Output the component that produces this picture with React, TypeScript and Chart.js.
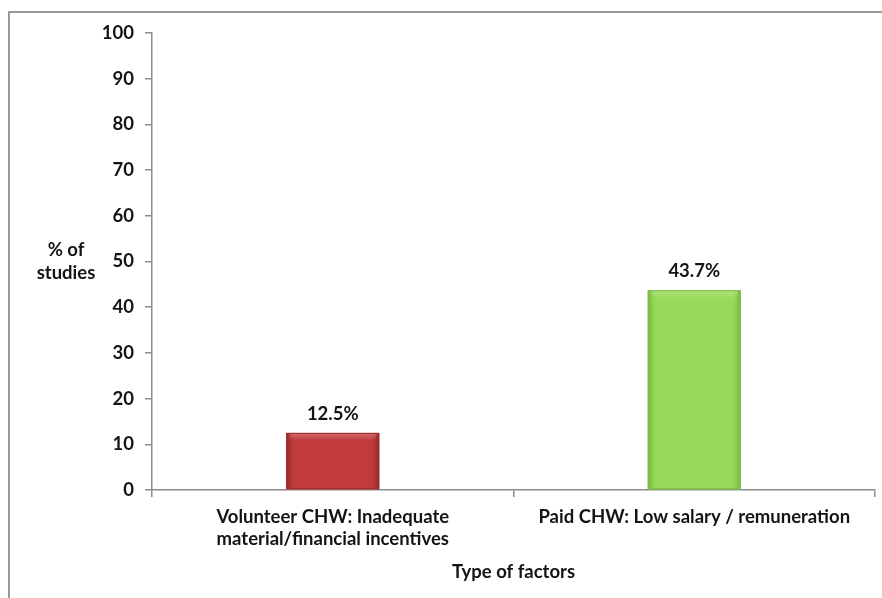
import React, { useEffect, useRef } from "react";
import { Chart, registerables } from "chart.js";

Chart.register(...registerables);

const categories: (string | string[])[] = [
  ["Volunteer CHW: Inadequate", "material/financial incentives"],
  "Paid CHW: Low salary / remuneration",
];
const values: number[] = [12.5, 43.7];
const valueLabels: string[] = ["12.5%", "43.7%"];
const barColors: string[] = ["#C23A3B", "#98D95A"];
const barEdgeColors: string[] = ["#992B2C", "#79B944"];
const yTitleLines: string[] = ["% of", "studies"];
const xTitle = "Type of factors";

const FONT = "Lato, 'Liberation Sans', sans-serif";
const FS = 18.5;
const TEXT = "#141414";
const AXIS = "#8c8c8c";

const decorPlugin = {
  id: "decor",
  beforeDraw(chart: any) {
    const ctx = chart.ctx;
    ctx.save();
    ctx.fillStyle = "#ffffff";
    ctx.fillRect(0, 0, chart.width, chart.height);
    ctx.strokeStyle = "#9a9a9a";
    ctx.lineWidth = 2;
    ctx.beginPath();
    ctx.moveTo(9, chart.height);
    ctx.lineTo(9, 12);
    ctx.lineTo(chart.width, 12);
    ctx.stroke();
    ctx.restore();
  },
  afterDatasetsDraw(chart: any) {
    const ctx = chart.ctx;
    const meta = chart.getDatasetMeta(0);
    ctx.save();
    meta.data.forEach((bar: any, i: number) => {
      const left = bar.x - bar.width / 2;
      const right = bar.x + bar.width / 2;
      const top = Math.min(bar.y, bar.base);
      const bottom = Math.max(bar.y, bar.base);
      const g = ctx.createLinearGradient(left, 0, right, 0);
      g.addColorStop(0, barEdgeColors[i]);
      g.addColorStop(0.08, barColors[i]);
      g.addColorStop(0.92, barColors[i]);
      g.addColorStop(1, barEdgeColors[i]);
      ctx.fillStyle = g;
      ctx.fillRect(left, top, right - left, bottom - top);
      const gv = ctx.createLinearGradient(0, top, 0, top + 8);
      gv.addColorStop(0, "rgba(255,255,255,0.25)");
      gv.addColorStop(1, "rgba(255,255,255,0)");
      ctx.fillStyle = gv;
      ctx.fillRect(left + 3, top, right - left - 6, 8);
      ctx.strokeStyle = barEdgeColors[i];
      ctx.lineWidth = 1;
      ctx.strokeRect(left + 0.5, top + 0.5, right - left - 1, bottom - top - 1);
      // value label
      ctx.fillStyle = TEXT;
      ctx.font = `bold ${FS}px ${FONT}`;
      ctx.textAlign = "center";
      ctx.textBaseline = "middle";
      ctx.fillText(valueLabels[i], bar.x, top - 19);
    });
    // y-axis title (horizontal)
    ctx.fillStyle = TEXT;
    ctx.font = `bold ${FS}px ${FONT}`;
    ctx.textAlign = "center";
    ctx.textBaseline = "middle";
    yTitleLines.forEach((t, k) => ctx.fillText(t, 66, 250 + k * 23));
    ctx.restore();
  },
};

export default function App() {
  const ref = useRef<HTMLCanvasElement | null>(null);
  useEffect(() => {
    if (!ref.current) return;
    const chart = new Chart(ref.current, {
      type: "bar",
      data: {
        labels: categories,
        datasets: [
          {
            data: values,
            backgroundColor: barColors,
            borderColor: barEdgeColors,
            borderWidth: 0,
            categoryPercentage: 1,
            barPercentage: 0.257,
          },
        ],
      },
      options: {
        animation: false,
        responsive: false,
        layout: { padding: { top: 33, right: 7, left: 0, bottom: 0 } },
        plugins: { legend: { display: false }, tooltip: { enabled: false } },
        scales: {
          y: {
            min: 0,
            max: 100,
            ticks: {
              stepSize: 10,
              color: TEXT,
              padding: 11,
              font: { family: FONT, size: FS, weight: "bold" },
            },
            grid: {
              drawOnChartArea: false,
              drawTicks: true,
              tickLength: 7,
              color: AXIS,
              lineWidth: 1.5,
            },
            border: { color: AXIS, width: 1.5 },
            afterFit: (s: any) => {
              s.width = 152;
            },
          },
          x: {
            ticks: {
              color: TEXT,
              padding: 9,
              maxRotation: 0,
              autoSkip: false,
              font: { family: FONT, size: FS, weight: "bold", lineHeight: 1.2 },
            },
            grid: {
              drawOnChartArea: false,
              drawTicks: true,
              tickLength: 7,
              color: AXIS,
              lineWidth: 1.5,
              offset: true,
            },
            border: { color: AXIS, width: 1.5 },
            title: {
              display: true,
              text: xTitle,
              color: TEXT,
              font: { family: FONT, size: FS, weight: "bold", lineHeight: 1.2 },
              padding: { top: 0, bottom: 15 },
            },
            afterFit: (s: any) => {
              s.height = 108;
            },
          },
        },
      },
      plugins: [decorPlugin],
    } as any);
    return () => chart.destroy();
  }, []);
  return (
    <div style={{ position: "absolute", left: 0, top: 0, width: 882, height: 598 }}>
      <canvas ref={ref} width={882} height={598} style={{ display: "block" }} />
    </div>
  );
}
